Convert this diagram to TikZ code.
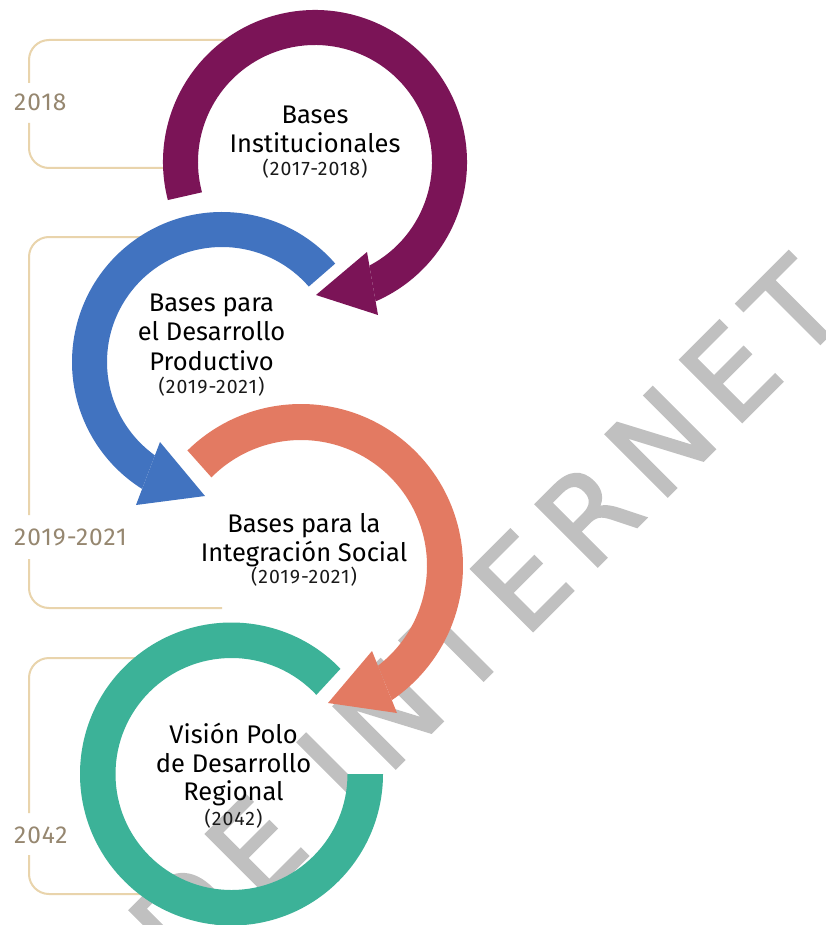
\documentclass[tikz,border=0pt]{standalone}
\usepackage{fontspec}
\setmainfont{Fira Sans}
\newfontfamily\wmfont{DejaVu Sans}[LetterSpace=13,FakeBold=2]
\newfontfamily\yearfont{Fira Sans}[LetterSpace=5]
\newfontfamily\sidefont{Fira Sans}[LetterSpace=4]
\definecolor{ringpurple}{RGB}{123,20,87}
\definecolor{ringblue}{RGB}{65,115,192}
\definecolor{ringorange}{RGB}{227,122,98}
\definecolor{ringgreen}{RGB}{60,178,152}
\definecolor{bracketcol}{RGB}{233,212,172}
\definecolor{sidetan}{RGB}{150,135,112}
\definecolor{wmgrey}{RGB}{192,192,192}
\definecolor{yeartext}{RGB}{25,25,25}
\begin{document}
\begin{tikzpicture}[x=1pt,y=1pt,
  ringlbl/.style={font=\fontsize{25.5}{29}\selectfont, inner sep=0pt, anchor=base, text=black},
  yearlbl/.style={font=\yearfont\fontsize{19.5}{23}\selectfont, inner sep=0pt, anchor=base, text=yeartext},
  sidelbl/.style={font=\sidefont\fontsize{24.5}{28}\selectfont, inner sep=0pt, anchor=west, text=sidetan},
  bracket/.style={draw=bracketcol, line width=2pt, rounded corners=20pt},
]
\clip (0,0) rectangle (826,-925);
\fill[white] (0,0) rectangle (826,-925);

% watermark
\node[rotate=45, inner sep=0pt, text=wmgrey, font=\wmfont\fontsize{120}{120}\selectfont] (wm) at (486,-616) {DE INTERNET};

% brackets
\draw[bracket] (240,-40) -- (29,-40) -- (29,-83);
\draw[bracket] (29,-123) -- (29,-168) -- (180,-168);
\draw[bracket] (150,-237) -- (29,-237) -- (29,-515);
\draw[bracket] (29,-559) -- (29,-608) -- (222,-608);
\draw[bracket] (150,-658) -- (29,-658) -- (29,-813);
\draw[bracket] (29,-855) -- (29,-894) -- (150,-894);

\node[sidelbl] (y1) at (14,-102) {2018};
\node[sidelbl] (y2) at (14,-537) {2019-2021};
\node[sidelbl] (y3) at (14,-835) {2042};

% ring 1
\coordinate (c1) at (315,-162);
\fill[ringpurple] ([shift={(194.5:152)}]c1) arc[start angle=194.5, end angle=-66.5, radius=152]
  -- ([shift={(-62.3:117)}]c1) arc[start angle=-62.3, end angle=195, radius=117] -- cycle;
\fill[ringpurple] ([shift={(52,-90)}]c1) -- ([shift={(1,-133)}]c1) -- ([shift={(63,-153)}]c1) -- cycle;

% ring 2
\coordinate (c2) at (222,-362);
\fill[ringblue] ([shift={(41:150)}]c2) arc[start angle=41, end angle=237.8, radius=150]
  -- ([shift={(234.3:115)}]c2) arc[start angle=234.3, end angle=41, radius=115] -- cycle;
\fill[ringblue] ([shift={(-62,-80)}]c2) -- ([shift={(-17,-134)}]c2) -- ([shift={(-86,-143)}]c2) -- cycle;

% ring 3
\coordinate (c3) at (301,-566);
\fill[ringorange] ([shift={(134.5:162)}]c3) arc[start angle=134.5, end angle=-55.9, radius=162]
  -- ([shift={(-52.35:126)}]c3) arc[start angle=-52.35, end angle=135.3, radius=126] -- cycle;
\fill[ringorange] ([shift={(71,-85)}]c3) -- ([shift={(27,-137)}]c3) -- ([shift={(96,-147)}]c3) -- cycle;

% ring 4
\coordinate (c4) at (231.5,-774);
\fill[ringgreen] ([shift={(44:151.5)}]c4) arc[start angle=44, end angle=360, radius=151.5]
  -- ([shift={(0:116)}]c4) arc[start angle=360, end angle=43, radius=116] -- cycle;

% texts
\node[ringlbl] (t1a) at (315,-124) {Bases};
\node[ringlbl] (t1b) at (315,-153) {Institucionales};
\node[yearlbl] (t1c) at (315,-176) {(2017-2018)};

\node[ringlbl] (t2a) at (211.5,-311) {Bases para};
\node[ringlbl] (t2b) at (211.5,-340) {el Desarrollo};
\node[ringlbl] (t2c) at (211.5,-370) {Productivo};
\node[yearlbl] (t2d) at (211.5,-393) {(2019-2021)};

\node[ringlbl] (t3a) at (304,-532) {Bases para la};
\node[ringlbl] (t3b) at (304,-561) {Integración Social};
\node[yearlbl] (t3c) at (304,-583) {(2019-2021)};

\node[ringlbl] (t4a) at (233.5,-743) {Visión Polo};
\node[ringlbl] (t4b) at (233.5,-772) {de Desarrollo};
\node[ringlbl] (t4c) at (233.5,-800) {Regional};
\node[yearlbl] (t4d) at (233.5,-825) {(2042)};
\end{tikzpicture}
\end{document}
